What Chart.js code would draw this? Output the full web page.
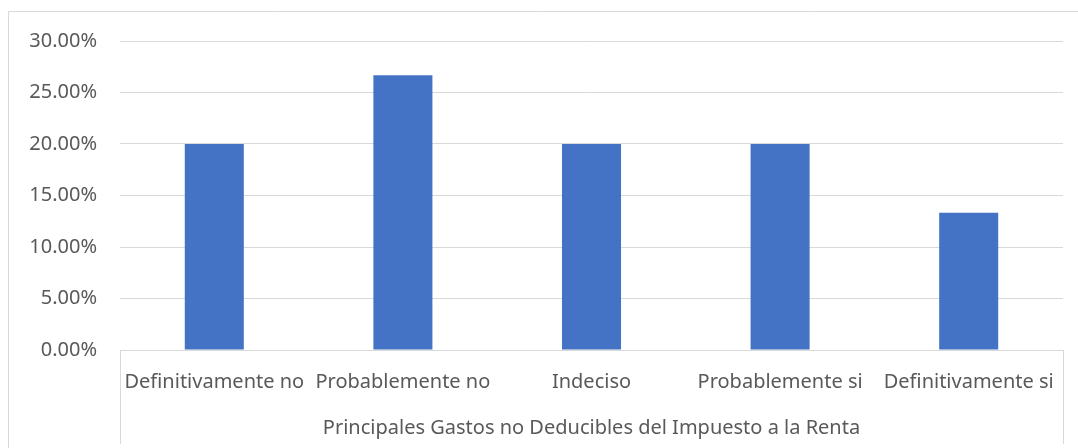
<!DOCTYPE html>
<html>
<head>
<meta charset="utf-8">
<script src="https://cdn.jsdelivr.net/npm/chart.js@4/dist/chart.umd.min.js"></script>
<style>
  html, body { margin: 0; padding: 0; background: #fff; }
  #wrap { width: 1078px; height: 448px; position: relative; }
</style>
</head>
<body>
<div id="wrap"><canvas id="myChart" width="1078" height="448"></canvas></div>
<script>
// data
var categories = ['Definitivamente no', 'Probablemente no', 'Indeciso', 'Probablemente si', 'Definitivamente si'];
var shares = [0.20, 0.2667, 0.20, 0.20, 0.1333];
var groupLabel = 'Principales Gastos no Deducibles del Impuesto a la Renta';
var yTicks = [0, 0.05, 0.10, 0.15, 0.20, 0.25, 0.30];

var FONT = "'Noto Sans', sans-serif";
var GREY = '#595959';
var LINE = '#d9d9d9';

// outer frame + the two group brackets under the axis
var framePlugin = {
    id: 'frame',
    afterDraw: function (chart) {
        var ctx = chart.ctx, a = chart.chartArea;
        ctx.save();
        ctx.strokeStyle = LINE;
        ctx.lineWidth = 1;
        ctx.beginPath();
        ctx.moveTo(8.5, chart.height);
        ctx.lineTo(8.5, 11.5);
        ctx.lineTo(chart.width, 11.5);
        ctx.moveTo(Math.round(a.left) + 0.5, a.bottom);
        ctx.lineTo(Math.round(a.left) + 0.5, chart.height - 4);
        ctx.moveTo(Math.round(a.right) + 0.5, a.bottom);
        ctx.lineTo(Math.round(a.right) + 0.5, chart.height - 4);
        ctx.stroke();
        ctx.restore();
    }
};

var ctx = document.getElementById('myChart');
var myChart = new Chart(ctx, {
    type: 'bar',
    data: {
        labels: categories,
        datasets: [{
            data: shares,
            backgroundColor: '#4472C4',
            categoryPercentage: 1,
            barPercentage: 0.313
        }]
    },
    options: {
        responsive: false,
        animation: false,
        layout: { padding: { left: 8, right: 15, top: 41, bottom: 0 } },
        plugins: {
            legend: { display: false },
            tooltip: { enabled: false }
        },
        scales: {
            x: {
                grid: { display: false },
                border: { color: LINE },
                ticks: {
                    color: GREY,
                    font: { family: FONT, size: 20 },
                    autoSkip: false,
                    maxRotation: 0,
                    padding: 12
                },
                title: {
                    display: true,
                    text: groupLabel,
                    color: GREY,
                    font: { family: FONT, size: 20 },
                    padding: { top: 10, bottom: 8 }
                },
                afterFit: function (s) { s.height = 98; }
            },
            y: {
                min: 0,
                max: 0.30,
                afterBuildTicks: function (s) {
                    s.ticks = yTicks.map(function (v) { return { value: v }; });
                },
                grid: { color: LINE, drawTicks: false },
                border: { display: false },
                ticks: {
                    color: GREY,
                    font: { family: FONT, size: 20 },
                    padding: 23,
                    callback: function (v) { return (v * 100).toFixed(2) + '%'; }
                },
                afterFit: function (s) { s.width = 112; }
            }
        }
    },
    plugins: [framePlugin]
});
</script>
</body>
</html>
